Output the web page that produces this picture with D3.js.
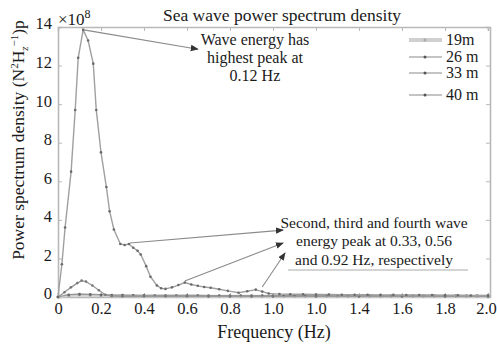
<!DOCTYPE html>
<html>
<head>
<meta charset="utf-8">
<script src="https://cdn.jsdelivr.net/npm/d3@7"></script>
<style>
  body { margin: 0; background: #fff; }
  svg, svg text { font-family: "Liberation Serif", "Times New Roman", serif !important; }
  svg text { fill: #1a1a1a; }
</style>
</head>
<body>
<div id="chart"></div>
<script>
// main spectrum (largest peak at 0.12 Hz)
const freqMain = [0, 0.018, 0.033, 0.061, 0.08, 0.094, 0.117, 0.14, 0.164, 0.178, 0.2, 0.225, 0.24, 0.26, 0.29, 0.31, 0.33, 0.35, 0.37, 0.385, 0.41, 0.43, 0.46, 0.48, 0.5, 0.53, 0.56, 0.59, 0.62, 0.65, 0.68, 0.71, 0.75, 0.79, 0.84, 0.88, 0.92, 0.95, 0.98, 1.03, 1.08, 1.14, 1.2, 1.26, 1.32, 1.38, 1.44, 1.5, 1.56, 1.62, 1.68, 1.74, 1.8, 1.86, 1.92, 2.0];
const psdMain = [0, 1.7, 3.6, 6.5, 9.7, 12.4, 13.85, 13.3, 12.1, 9.7, 7.5, 5.7, 4.45, 3.5, 2.75, 2.7, 2.75, 2.55, 2.4, 2.2, 1.6, 1.05, 0.6, 0.45, 0.42, 0.5, 0.62, 0.75, 0.65, 0.58, 0.52, 0.48, 0.4, 0.32, 0.22, 0.3, 0.38, 0.28, 0.18, 0.15, 0.14, 0.14, 0.13, 0.13, 0.12, 0.12, 0.12, 0.11, 0.11, 0.1, 0.1, 0.1, 0.09, 0.09, 0.08, 0.08];

// second spectrum (small peak near 0.12 Hz)
const freqSecond = [0, 0.03, 0.06, 0.09, 0.11, 0.13, 0.16, 0.19, 0.22, 0.25, 0.3, 0.4, 0.5, 0.6, 0.7, 0.8, 0.9, 1.0, 1.2, 1.4, 1.6, 1.8, 2.0];
const psdSecond = [0, 0.25, 0.5, 0.72, 0.85, 0.8, 0.6, 0.35, 0.12, 0.05, 0.04, 0.04, 0.04, 0.04, 0.03, 0.03, 0.03, 0.03, 0.03, 0.03, 0.03, 0.03, 0.03];

// two flat spectra close to zero
const freqFlat = [0, 0.05, 0.1, 0.15, 0.2, 0.25, 0.3, 0.35, 0.4, 0.45, 0.5, 0.55, 0.6, 0.65, 0.7, 0.75, 0.8, 0.85, 0.9, 0.95, 1.0, 1.05, 1.1, 1.15, 1.2, 1.25, 1.3, 1.35, 1.4, 1.45, 1.5, 1.55, 1.6, 1.65, 1.7, 1.75, 1.8, 1.85, 1.9, 1.95, 2.0];
const psdFlatA = [0, 0.08, 0.1, 0.09, 0.08, 0.07, 0.06, 0.06, 0.05, 0.05, 0.05, 0.05, 0.05, 0.05, 0.04, 0.04, 0.04, 0.04, 0.04, 0.04, 0.04, 0.04, 0.04, 0.04, 0.04, 0.04, 0.04, 0.04, 0.04, 0.04, 0.04, 0.04, 0.04, 0.04, 0.04, 0.04, 0.04, 0.04, 0.04, 0.04, 0.04];
const psdFlatB = [0, 0.12, 0.15, 0.14, 0.12, 0.1, 0.1, 0.09, 0.09, 0.08, 0.08, 0.08, 0.08, 0.08, 0.07, 0.07, 0.07, 0.07, 0.07, 0.07, 0.07, 0.07, 0.07, 0.07, 0.07, 0.07, 0.07, 0.07, 0.07, 0.07, 0.07, 0.07, 0.07, 0.07, 0.07, 0.07, 0.07, 0.07, 0.07, 0.07, 0.07];

const legendLabels = ["19m", "26 m", "33 m", "40 m"];
const xTicks = [0, 0.2, 0.4, 0.6, 0.8, 1.0, 1.2, 1.4, 1.6, 1.8, 2.0];
const xTickLabels = ["0", "0.2", "0.4", "0.6", "0.8", "1.0", "1.0", "1.4", "1.6", "1.8", "2.0"];
const yTicks = [0, 2, 4, 6, 8, 10, 12, 14];

// annotations in data units
const arrowFrom = [[0.12, 13.85], [0.335, 2.8], [0.59, 0.83], [0.95, 0.52]];
const arrowTo = [[0.651, 12.85], [1.047, 3.47], [1.047, 2.8], [1.056, 2.28]];
const note1 = ["Wave energy has", "highest peak at", "0.12 Hz"];
const note1Pos = [0.916, [13.06, 12.12, 11.19]];
const note2 = ["Second, third and fourth wave", "energy peak at 0.33, 0.56", "and 0.92 Hz, respectively"];
const note2Pos = [1.47, [3.58, 2.64, 1.66]];

const W = 497, H = 348;
const serif = "'Liberation Serif', 'Times New Roman', serif";
const x = d3.scaleLinear().domain([0, 2]).range([58, 488]);
const y = d3.scaleLinear().domain([0, 14]).range([297, 27]);

const svg = d3.select("#chart").append("svg").attr("width", W).attr("height", H)
  .attr("font-family", serif);

svg.append("defs").append("marker")
  .attr("id", "arr").attr("viewBox", "0 0 10 10").attr("refX", 9).attr("refY", 5)
  .attr("markerWidth", 8).attr("markerHeight", 8).attr("markerUnits", "userSpaceOnUse")
  .attr("orient", "auto")
  .append("path").attr("d", "M0,1 L10,5 L0,9 Z").attr("fill", "#333");

const frame = "#b8b8b8";

// axes (ticks inward, MATLAB style)
const gx = svg.append("g").attr("transform", `translate(0,${y(0)})`)
  .call(d3.axisBottom(x).tickValues(xTicks).tickSize(-4).tickPadding(5)
    .tickFormat((d, i) => xTickLabels[i]));
const gxTop = svg.append("g").attr("transform", `translate(0,${y(14)})`)
  .call(d3.axisTop(x).tickValues(xTicks).tickSize(-4).tickFormat(""));
const gy = svg.append("g").attr("transform", `translate(${x(0)},0)`)
  .call(d3.axisLeft(y).tickValues(yTicks).tickSize(-4).tickPadding(6));
const gyR = svg.append("g").attr("transform", `translate(${x(2) + 2},0)`)
  .call(d3.axisRight(y).tickValues(yTicks).tickSize(-4).tickFormat(""));

[gx, gxTop, gy, gyR].forEach(g => {
  g.attr("font-family", serif).attr("font-size", 16.5);
  g.select(".domain").attr("stroke", frame).attr("stroke-width", 1.6);
  g.selectAll(".tick line").attr("stroke", frame);
  g.selectAll("text").attr("fill", "#222");
});
gy.selectAll("text").attr("dy", "0.12em");
// keep the last x label inside the picture
gx.selectAll(".tick text").filter((d, i) => i === xTicks.length - 1).attr("dx", -2);

const line = d3.line().x(d => x(d[0])).y(d => y(d[1]));
const pts = (f, v) => f.map((d, i) => [d, v[i]]);

function drawSeries(f, v, color, width, markerColor) {
  const data = pts(f, v);
  svg.append("path").datum(data).attr("d", line)
    .attr("fill", "none").attr("stroke", color).attr("stroke-width", width);
  if (markerColor) {
    svg.append("g").selectAll("circle").data(data).join("circle")
      .attr("cx", d => x(d[0])).attr("cy", d => y(d[1])).attr("r", 1.3)
      .attr("fill", markerColor);
  }
}

drawSeries(freqFlat, psdFlatA, "#cfcfcf", 3, "#8a8a8a");
drawSeries(freqFlat, psdFlatB, "#999", 1.2, "#666");
drawSeries(freqSecond, psdSecond, "#999", 1.3, "#777");
drawSeries(freqMain, psdMain, "#a0a0a0", 1.4, "#6a6a6a");

// arrows
arrowFrom.forEach((p, i) => {
  svg.append("line")
    .attr("x1", x(p[0])).attr("y1", y(p[1]))
    .attr("x2", x(arrowTo[i][0])).attr("y2", y(arrowTo[i][1]))
    .attr("stroke", "#8a8a8a").attr("stroke-width", 1.1)
    .attr("marker-end", "url(#arr)");
});

note1.forEach((t, i) => {
  svg.append("text").attr("x", x(note1Pos[0])).attr("y", y(note1Pos[1][i]))
    .attr("text-anchor", "middle").attr("font-size", 16).text(t);
});
note2.forEach((t, i) => {
  svg.append("text").attr("x", x(note2Pos[0])).attr("y", y(note2Pos[1][i]))
    .attr("text-anchor", "middle").attr("font-size", 15.5).text(t);
});
svg.append("line").attr("x1", x(1.07)).attr("x2", x(1.907)).attr("y1", y(1.4)).attr("y2", y(1.4))
  .attr("stroke", "#aaa").attr("stroke-width", 1);

// legend
const legY = [40, 57, 73, 95];
legendLabels.forEach((lab, i) => {
  const g = svg.append("g");
  g.append("line").attr("x1", 409).attr("x2", 442).attr("y1", legY[i]).attr("y2", legY[i])
    .attr("stroke", i === 0 ? "#d0d0d0" : "#8a8a8a").attr("stroke-width", i === 0 ? 4 : 1.2);
  g.append("circle").attr("cx", 425).attr("cy", legY[i]).attr("r", 1.5).attr("fill", i === 0 ? "#aaa" : "#555");
  g.append("text").attr("x", 446).attr("y", legY[i] + 5).attr("font-size", 16).text(lab);
});

// title and labels
svg.append("text").attr("x", 282).attr("y", 21).attr("text-anchor", "middle")
  .attr("font-size", 17.5).text("Sea wave power spectrum density");

const exp = svg.append("text").attr("x", 58).attr("y", 25).attr("font-size", 17);
exp.append("tspan").text("×10");
exp.append("tspan").attr("dy", -7).attr("font-size", 12).text("8");

svg.append("text").attr("x", 274).attr("y", 338).attr("text-anchor", "middle")
  .attr("font-size", 18).text("Frequency (Hz)");

const yl = svg.append("text").attr("transform", "translate(24,140) rotate(-90)")
  .attr("text-anchor", "middle").attr("font-size", 17.5);
yl.append("tspan").text("Power spectrum density (N");
yl.append("tspan").attr("dy", -6).attr("font-size", 11).text("2");
yl.append("tspan").attr("dy", 6).text("H");
yl.append("tspan").attr("dy", 4).attr("font-size", 11).attr("font-style", "italic").text("z");
yl.append("tspan").attr("dy", -10).attr("font-size", 11).text("−1");
yl.append("tspan").attr("dy", 6).text(")p");
</script>
</body>
</html>
